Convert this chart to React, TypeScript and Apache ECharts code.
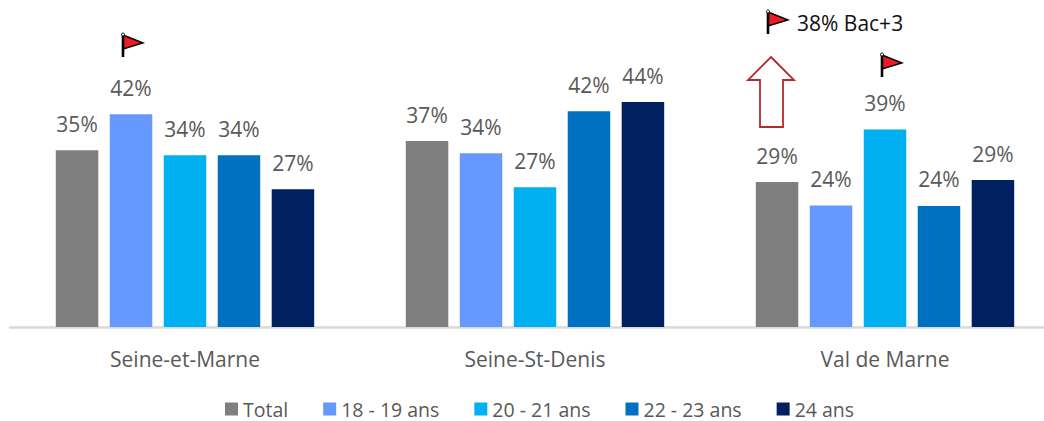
import React, { useEffect, useRef } from "react";
import * as echarts from "echarts";

const categories = ["Seine-et-Marne", "Seine-St-Denis", "Val de Marne"];
const seriesNames = ["Total", "18 - 19 ans", "20 - 21 ans", "22 - 23 ans", "24 ans"];
const colors = ["#7f7f7f", "#6699ff", "#00b0f0", "#0070c0", "#002060"];
const total = [34.9, 36.7, 28.6];
const age18 = [42, 34.3, 24];
const age20 = [33.9, 27.6, 39];
const age22 = [33.9, 42.6, 23.9];
const age24 = [27.2, 44.4, 29];
const values = [total, age18, age20, age22, age24];
const labelsTotal = ["35%", "37%", "29%"];
const labels18 = ["42%", "34%", "24%"];
const labels20 = ["34%", "27%", "39%"];
const labels22 = ["34%", "42%", "24%"];
const labels24 = ["27%", "44%", "29%"];
const labels = [labelsTotal, labels18, labels20, labels22, labels24];
const annotation = "38% Bac+3";
const FONT = "'Open Sans', 'Noto Sans', sans-serif";

function flag(x: number, y: number) {
  return {
    type: "group",
    x,
    y,
    silent: true,
    children: [
      { type: "polygon", shape: { points: [[0, 2], [20, 10], [0, 16]] }, style: { fill: "#ed1c24", stroke: "#000", lineWidth: 1.4 } },
      { type: "line", shape: { x1: 0, y1: 1, x2: 0, y2: 24 }, style: { stroke: "#000", lineWidth: 2.6 } },
      { type: "circle", shape: { cx: 0, cy: 1.5, r: 1.5 }, style: { fill: "#fff", stroke: "#000", lineWidth: 1 } },
    ],
  };
}

export default function App() {
  const ref = useRef<HTMLDivElement>(null);
  useEffect(() => {
    const chart = echarts.init(ref.current!, null, { renderer: "svg" });
    chart.setOption({
      animation: false,
      backgroundColor: "#fff",
      textStyle: { fontFamily: FONT },
      grid: { left: 10, right: 0, top: 23, bottom: 94 },
      xAxis: {
        type: "category",
        data: categories,
        axisTick: { show: false },
        axisLine: { lineStyle: { color: "#d9d9d9", width: 2.5 } },
        axisLabel: { color: "#595959", fontSize: 21, fontFamily: FONT, margin: 21 },
      },
      yAxis: { type: "value", min: 0, max: 60, show: false, splitLine: { show: false } },
      legend: {
        data: seriesNames,
        left: 225,
        top: 399,
        itemWidth: 13,
        itemHeight: 13,
        itemGap: 35,
        icon: "rect",
        padding: 0,
        textStyle: { color: "#595959", fontSize: 19.5, lineHeight: 18, fontFamily: FONT },
      },
      series: seriesNames.map((name, i) => ({
        name,
        type: "bar",
        data: values[i],
        barWidth: 42.5,
        barGap: "27%",
        itemStyle: { color: colors[i] },
        label: {
          show: true,
          position: "top",
          distance: 16,
          color: "#595959",
          fontSize: 21,
          fontFamily: FONT,
          formatter: (p: any) => labels[i][p.dataIndex],
        },
      })),
      graphic: [
        flag(123, 33),
        flag(768, 10),
        flag(882, 53),
        {
          type: "text",
          x: 797,
          y: 23,
          silent: true,
          style: { text: annotation, fill: "#111", fontSize: 21, fontFamily: FONT, verticalAlign: "middle" },
        },
        {
          type: "polygon",
          silent: true,
          shape: { points: [[771, 57], [794, 80], [783, 80], [783, 127], [760, 127], [760, 80], [748, 80]] },
          style: { fill: "#fff", stroke: "#b5282e", lineWidth: 1.8 },
        },
      ],
    });
    return () => chart.dispose();
  }, []);
  return (
    <div style={{ position: "absolute", left: 0, top: 0, width: 1044, height: 421, overflow: "hidden" }}>
      <div ref={ref} style={{ width: 1060, height: 421 }} />
    </div>
  );
}
